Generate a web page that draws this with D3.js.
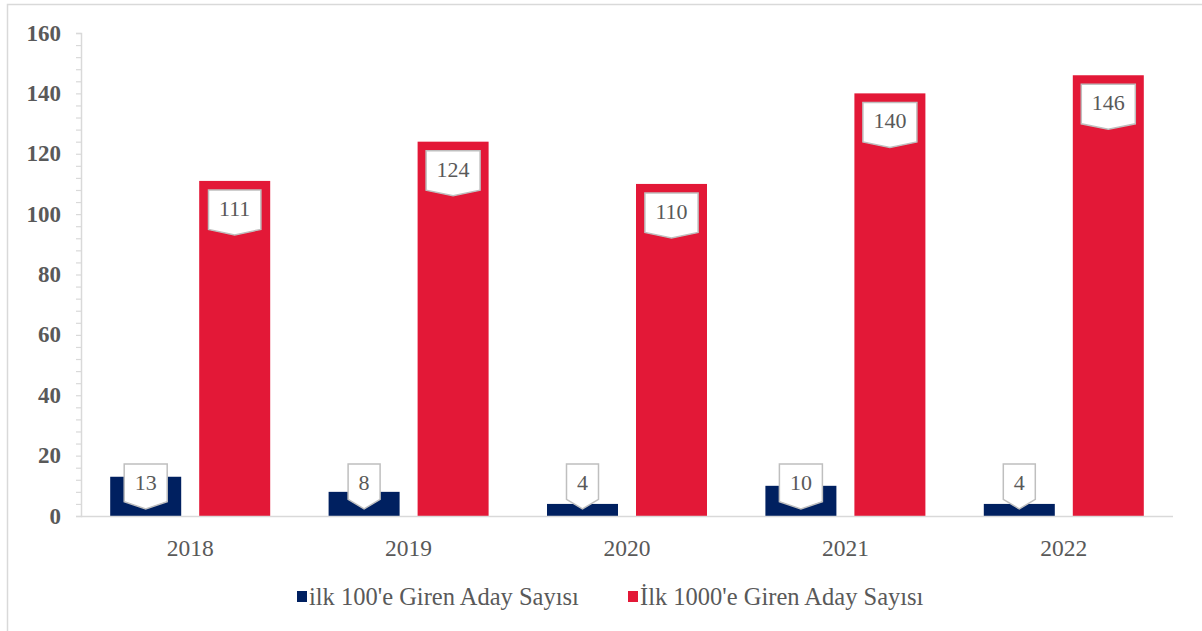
<!DOCTYPE html>
<html><head><meta charset="utf-8">
<script src="https://cdn.jsdelivr.net/npm/d3@7"></script>
<style>body{margin:0;background:#fff}svg{display:block}
svg text{font-family:"Liberation Serif","Times New Roman",Tinos,serif;}</style>
</head><body><svg id="c" width="1202" height="631"></svg>
<script>
const categories = ["2018","2019","2020","2021","2022"];
const seriesNames = ["ilk 100'e Giren Aday Sayısı","İlk 1000'e Giren Aday Sayısı"];
const top100 = [13, 8, 4, 10, 4];
const top1000 = [111, 124, 110, 140, 146];
const yTicks = [0,20,40,60,80,100,120,140,160];
const colors = ["#002060", "#E31837"];
const seriesValues = [top100, top1000];

const svg = d3.select("#c");
const grey = "#595959";

// frame
svg.append("path").attr("d","M7.5,640 V4.5 H1210").attr("fill","none").attr("stroke","#D9D9D9").attr("stroke-width",1.5);

const x0 = 81, x1 = 1173, yBase = 516, yTop = 33;
const x = d3.scaleBand().domain(categories).range([x0, x1]).padding(0);
const xs = d3.scaleBand().domain([0,1]).range([0, x.bandwidth()]).paddingInner(18/89).paddingOuter(29.2/89);
const y = d3.scaleLinear().domain([0,160]).range([yBase, yTop]);

// y axis
const ya = svg.append("g").attr("transform",`translate(${x0},0)`)
  .call(d3.axisLeft(y).tickValues(d3.range(0,161,4)).tickSize(5).tickFormat(""));
ya.select(".domain").attr("stroke","#D9D9D9").attr("stroke-width",1.5);
ya.selectAll(".tick line").attr("stroke","#D9D9D9").attr("stroke-width",1.2);
svg.append("g").selectAll("text").data(yTicks).join("text")
  .attr("x", 61).attr("y", d=>y(d)+7.5).attr("text-anchor","end")
  .attr("font-weight","bold").attr("font-size",23).attr("fill",grey)
  .text(d=>d);

// bars
const groups = svg.append("g").selectAll("g").data(categories).join("g")
  .attr("transform", c=>`translate(${x(c)},0)`);
const barData = (c,i) => seriesValues.map((vals,s)=>({s, v: vals[i]}));
groups.selectAll("rect").data(barData).join("rect")
  .attr("x", d=>xs(d.s)).attr("width", xs.bandwidth())
  .attr("y", d=>y(d.v)).attr("height", d=>yBase - y(d.v))
  .attr("fill", d=>colors[d.s]);

// x axis
svg.append("line").attr("x1",x0).attr("x2",x1).attr("y1",yBase+0.5).attr("y2",yBase+0.5)
  .attr("stroke","#D9D9D9").attr("stroke-width",1.5);
svg.append("g").selectAll("text").data(categories).join("text")
  .attr("x", c=>x(c)+x.bandwidth()/2).attr("y", 556).attr("text-anchor","middle")
  .attr("font-size",23.5).attr("fill",grey).text(c=>c);

// callout labels
const labels = svg.append("g");
categories.forEach((c,i)=>{
  seriesValues.forEach((vals,s)=>{
    const v = vals[i];
    const cx = x(c) + xs(s) + xs.bandwidth()/2;
    const t = labels.append("text").attr("font-size",22).attr("fill",grey)
      .attr("text-anchor","middle").text(v);
    const tw = t.node().getComputedTextLength();
    const w = tw + 21;
    const top = Math.min(y(v) + 9, yBase - 52);
    const drop = Math.max(5.5, 16 - w/5);
    const h = 45 - drop;
    const l = cx - w/2, r = cx + w/2;
    labels.insert("path","text").attr("d",`M${l},${top} H${r} V${top+h} L${cx},${top+45} L${l},${top+h} Z`)
      .attr("fill","#fff").attr("stroke","#BFBFBF").attr("stroke-width",1.5).attr("stroke-linejoin","miter");
    t.attr("x", cx).attr("y", top + 26);
  });
});

// legend
const leg = svg.append("g");
const legX = [297, 628];
seriesNames.forEach((n,s)=>{
  leg.append("rect").attr("x",legX[s]).attr("y",591).attr("width",10).attr("height",11).attr("fill",colors[s]);
  leg.append("text").attr("x",legX[s]+12).attr("y",605).attr("font-size",24.5)
    .attr("fill",grey).text(n);
});
</script></body></html>
